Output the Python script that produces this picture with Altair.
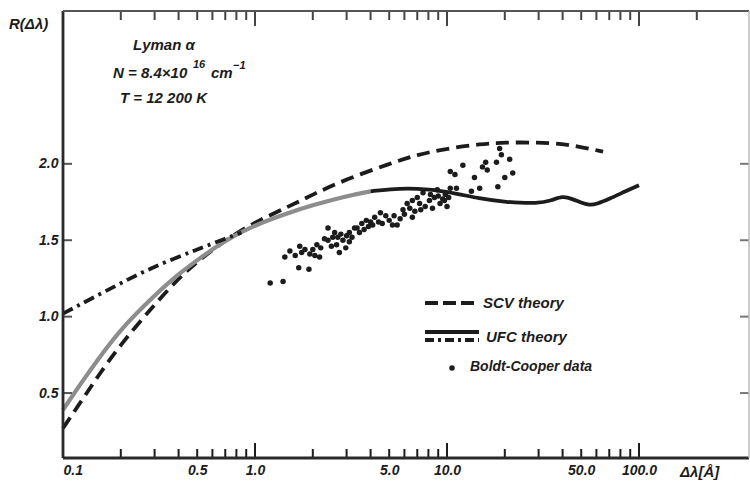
import altair as alt
import pandas as pd

W, H = 686, 447
FONT = "Liberation Sans"
INK = "#1c1c1c"

# SCV theory
scv_dl = [0.1, 0.125, 0.15, 0.2, 0.3, 0.4, 0.5, 0.7, 1.0, 1.5, 2.0, 3.0, 5.0, 7.0,
          10.0, 15.0, 20.0, 30.0, 40.0, 50.0, 65.0]
scv_r = [0.27, 0.45, 0.6, 0.82, 1.08, 1.25, 1.36, 1.5, 1.62, 1.72, 1.8, 1.9, 2.0, 2.06,
         2.1, 2.13, 2.14, 2.14, 2.13, 2.11, 2.08]

# UFC theory (solid)
ufc_dl = [0.1, 0.125, 0.15, 0.2, 0.3, 0.4, 0.5, 0.7, 1.0, 1.5, 2.0, 3.0, 4.0, 5.0, 7.0,
          10.0, 15.0, 20.0, 30.0, 35.0, 40.0, 45.0, 50.0, 55.0, 60.0, 70.0, 85.0, 100.0]
ufc_r = [0.39, 0.57, 0.71, 0.92, 1.14, 1.28, 1.37, 1.5, 1.6, 1.68, 1.73, 1.79, 1.82, 1.835,
         1.84, 1.82, 1.77, 1.75, 1.74, 1.76, 1.79, 1.77, 1.745, 1.73, 1.735, 1.77, 1.82, 1.86]

# UFC theory (dash-dot branch)
dd_dl = [0.1, 0.2, 0.3, 0.5, 0.7, 0.85]
dd_r = [1.02, 1.22, 1.33, 1.44, 1.51, 1.55]

# Boldt-Cooper measurements
bc_dl = [1.20, 1.40, 1.69, 1.91, 1.43, 1.52, 1.62, 1.71, 1.82, 1.93, 1.75, 2.0, 2.05, 2.17,
         2.2, 2.1, 2.4, 2.4, 2.54, 2.66, 2.75, 2.97, 2.87, 2.6, 2.7, 2.8, 3.0, 3.1, 3.2, 3.3,
         3.4, 3.5, 3.6, 3.7, 3.9, 4.0, 4.1, 4.2, 4.4, 4.6, 4.8, 5.0, 5.2, 5.5, 5.3, 5.7, 5.9,
         6.2, 6.0, 6.4, 6.6, 6.6, 6.8, 7.0, 7.2, 7.3, 7.5, 7.7, 8.1, 8.4, 8.6, 8.9, 9.2, 9.5,
         10.0, 9.8, 10.4, 11.2, 10.4, 11.0, 12.1, 13.4, 13.9, 14.8, 15.3, 15.9, 16.2, 18.1,
         18.4, 19.2, 18.8, 20.0, 21.2, 22.0, 3.1, 3.8, 4.5, 2.3, 2.5, 9.0, 9.7, 10.2, 8.2]
bc_r = [1.22, 1.23, 1.32, 1.31, 1.39, 1.43, 1.40, 1.46, 1.44, 1.41, 1.42, 1.44, 1.40, 1.39,
        1.45, 1.47, 1.58, 1.50, 1.52, 1.47, 1.42, 1.45, 1.50, 1.55, 1.52, 1.54, 1.53, 1.55,
        1.52, 1.58, 1.58, 1.55, 1.61, 1.57, 1.59, 1.62, 1.60, 1.65, 1.62, 1.61, 1.66, 1.63,
        1.60, 1.60, 1.66, 1.64, 1.70, 1.74, 1.67, 1.71, 1.76, 1.65, 1.69, 1.78, 1.74, 1.70,
        1.81, 1.72, 1.76, 1.71, 1.78, 1.83, 1.74, 1.77, 1.72, 1.80, 1.84, 1.84, 1.95, 1.93,
        1.99, 1.82, 1.91, 1.84, 1.98, 2.01, 1.96, 2.01, 1.85, 2.06, 2.10, 1.91, 2.03, 1.94,
        1.49, 1.63, 1.68, 1.51, 1.46, 1.79, 1.76, 1.78, 1.80]

# axis tick values
x_label_vals = [0.1, 0.5, 1.0, 5.0, 10.0, 50.0, 100.0]
y_label_vals = [0.5, 1.0, 1.5, 2.0]
minor_ticks = [0.2, 0.3, 0.4, 0.5, 0.6, 0.7, 0.8, 0.9, 2, 3, 4, 5, 6, 7, 8, 9,
               20, 30, 40, 50, 60, 70, 80, 90]
major_ticks = [1.0, 10.0, 100.0]
top_extra_ticks = [200.0]

xs = alt.Scale(type="log", domain=[0.1, 374], nice=False)
ys = alt.Scale(domain=[0.075, 3.0], nice=False, zero=False)

scv = pd.DataFrame({"dl": scv_dl, "r": scv_r})
ufc = pd.DataFrame({"dl": ufc_dl, "r": ufc_r})
dd = pd.DataFrame({"dl": dd_dl, "r": dd_r})
bc = pd.DataFrame({"dl": bc_dl, "r": bc_r})

X = alt.X("dl:Q", scale=xs, axis=alt.Axis(values=x_label_vals, format=".1f", title=None,
                                          ticks=False, domain=False, grid=False,
                                          labelPadding=5))
Y = alt.Y("r:Q", scale=ys, axis=alt.Axis(values=y_label_vals, format=".1f", title=None,
                                         ticks=False, domain=False, grid=False,
                                         labelPadding=5))

CURVE = "basis"

scv_line = alt.Chart(scv).mark_line(color=INK, strokeWidth=3.8, strokeDash=[13, 7],
                                    interpolate=CURVE).encode(x=X, y=Y)

ufc_light = alt.Chart(ufc).transform_filter(alt.datum.dl <= 4.0).mark_line(
    color="#8d8d8d", strokeWidth=4.2, interpolate=CURVE).encode(
    x=alt.X("dl:Q", scale=xs), y=alt.Y("r:Q", scale=ys))
ufc_dark = alt.Chart(ufc).transform_filter(alt.datum.dl >= 4.0).mark_line(
    color=INK, strokeWidth=3.8, interpolate=CURVE).encode(
    x=alt.X("dl:Q", scale=xs), y=alt.Y("r:Q", scale=ys))

dd_line = alt.Chart(dd).mark_line(color=INK, strokeWidth=3.8, strokeDash=[11, 5, 3, 5],
                                  interpolate=CURVE).encode(
    x=alt.X("dl:Q", scale=xs), y=alt.Y("r:Q", scale=ys))

points = alt.Chart(bc).mark_circle(color=INK, size=30, opacity=1).encode(
    x=alt.X("dl:Q", scale=xs), y=alt.Y("r:Q", scale=ys))

# inward tick marks on the frame
minor_df = pd.DataFrame({"t": minor_ticks})
major_df = pd.DataFrame({"t": major_ticks})
top_df = pd.DataFrame({"t": minor_ticks + top_extra_ticks})
ytick_df = pd.DataFrame({"v": y_label_vals})

tx = alt.X("t:Q", scale=xs)
bot_minor = alt.Chart(minor_df).mark_rule(color=INK, strokeWidth=2).encode(
    x=tx, y=alt.value(H), y2=alt.value(H - 9))
bot_major = alt.Chart(major_df).mark_rule(color=INK, strokeWidth=2).encode(
    x=tx, y=alt.value(H), y2=alt.value(H - 15))
top_minor = alt.Chart(top_df).mark_rule(color="#444", strokeWidth=2).encode(
    x=tx, y=alt.value(0), y2=alt.value(9))
top_major = alt.Chart(major_df).mark_rule(color="#444", strokeWidth=2).encode(
    x=tx, y=alt.value(0), y2=alt.value(15))
left_ticks = alt.Chart(ytick_df).mark_rule(color="#555", strokeWidth=2).encode(
    y=alt.Y("v:Q", scale=ys), x=alt.value(0), x2=alt.value(9))
right_ticks = alt.Chart(ytick_df).mark_rule(color="#777", strokeWidth=2).encode(
    y=alt.Y("v:Q", scale=ys), x=alt.value(W - 9), x2=alt.value(W))


def txt(s, x, y, size=15, align="left"):
    return alt.Chart(pd.DataFrame({"s": [s]})).mark_text(
        font=FONT, fontSize=size, fontStyle="italic", fontWeight="bold", color=INK,
        align=align, baseline="middle").encode(text="s:N", x=alt.value(x), y=alt.value(y))


def hrule(x1, x2, y, dash=None, color=INK, width=3.8):
    kw = {"strokeDash": dash} if dash else {}
    return alt.Chart(pd.DataFrame({"a": [0]})).mark_rule(
        color=color, strokeWidth=width, **kw).encode(
        x=alt.value(x1), x2=alt.value(x2), y=alt.value(y))


def vrule(x, y1, y2, color=INK, width=2.5):
    return alt.Chart(pd.DataFrame({"a": [0]})).mark_rule(
        color=color, strokeWidth=width).encode(
        x=alt.value(x), y=alt.value(y1), y2=alt.value(y2))


# frame: heavy left and bottom lines, lighter top and right
frame = [
    vrule(0, 0, H, color="#2a2a2a", width=2.8),
    hrule(0, W, H, color="#2a2a2a", width=2.8),
    hrule(0, W, 0, color="#555", width=2),
    vrule(W, 0, H, color="#bbb", width=1.5),
]

# legend
legend = [
    hrule(362, 416, 292, dash=[13, 5]),
    txt("SCV theory", 420, 292),
    hrule(362, 416, 321),
    hrule(362, 416, 329, dash=[9, 4, 3, 4]),
    txt("UFC theory", 423, 326),
    alt.Chart(pd.DataFrame({"a": [0]})).mark_circle(color=INK, size=30, opacity=1).encode(
        x=alt.value(389), y=alt.value(357)),
    txt("Boldt-Cooper data", 407, 356, size=14),
]

# annotation
notes = [
    txt("R(Δλ)", -54, 13, size=15),
    txt("Lyman α", 70, 34, size=15),
    txt("N = 8.4×10", 50, 62, size=15),
    txt("16", 130, 54, size=11),
    txt("cm", 148, 62, size=15),
    txt("−1", 170, 55, size=11),
    txt("T = 12 200 K", 57, 87, size=15),
    txt("Δλ[Å]", 617, H + 14, size=15),
]

chart = alt.layer(
    scv_line, ufc_light, ufc_dark, dd_line, points,
    bot_minor, bot_major, top_minor, top_major, left_ticks, right_ticks,
    *frame, *legend, *notes,
).properties(
    width=W, height=H,
    autosize=alt.AutoSizeParams(type="none"),
    padding={"left": 63, "top": 11, "right": 1, "bottom": 32},
    background="white",
).configure_view(
    stroke=None,
).configure_axis(
    labelFont=FONT, labelFontSize=14, labelFontStyle="italic", labelFontWeight="bold",
    labelColor=INK,
)

chart.save("out.html", embed_options={"renderer": "svg", "actions": False})
